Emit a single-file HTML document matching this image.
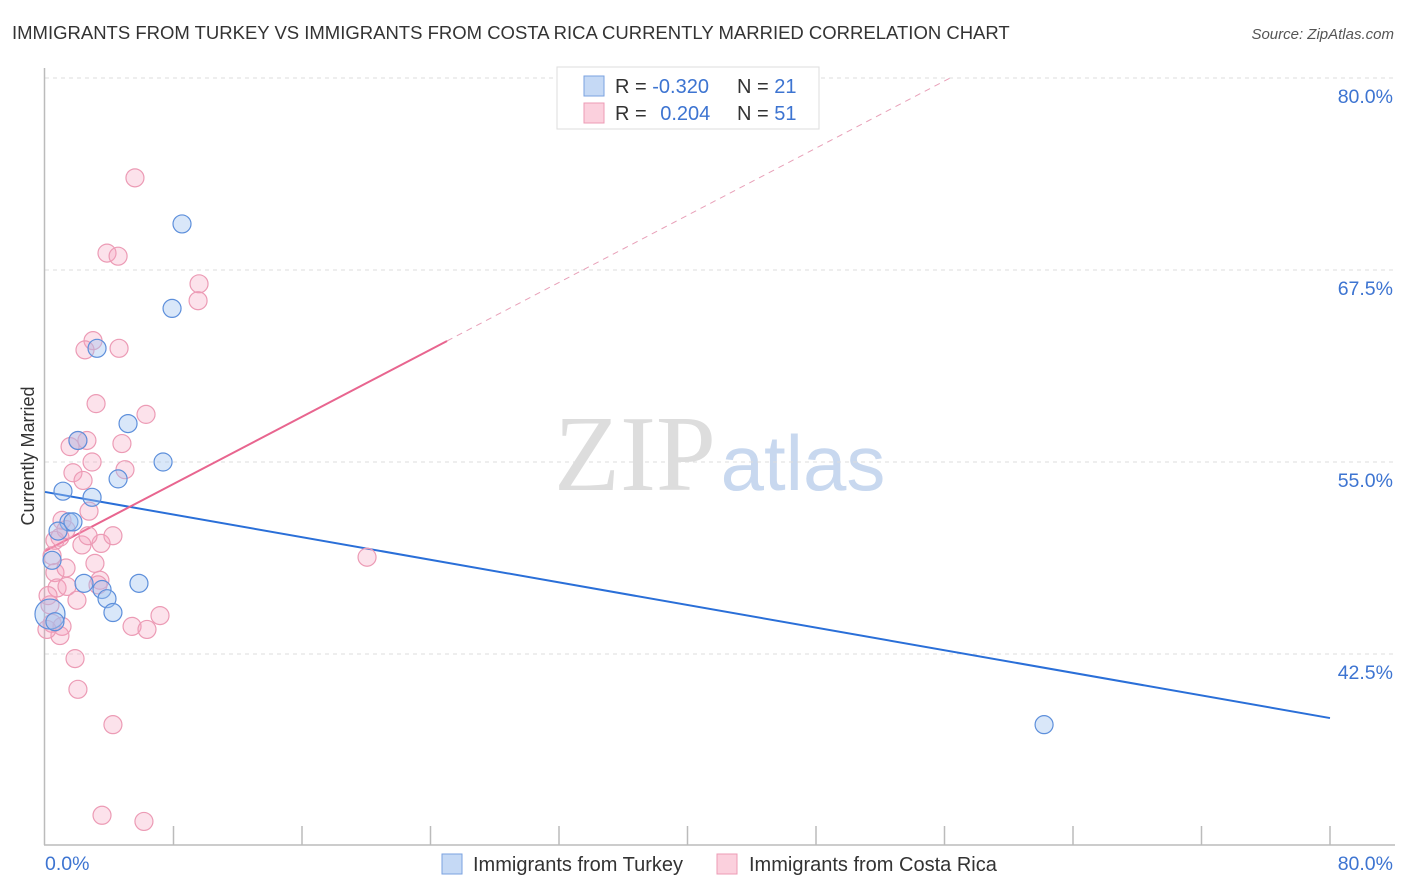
<!DOCTYPE html>
<html><head><meta charset="utf-8"><style>
body{margin:0;background:#fff;font-family:"Liberation Sans",sans-serif;}
svg{display:block}
</style></head><body>
<svg id="chart" width="1406" height="892" xmlns="http://www.w3.org/2000/svg">
<text x="12" y="39" font-size="18.5" fill="#333">IMMIGRANTS FROM TURKEY VS IMMIGRANTS FROM COSTA RICA CURRENTLY MARRIED CORRELATION CHART</text>
<text x="1394" y="39" font-size="15" fill="#555" font-style="italic" text-anchor="end">Source: ZipAtlas.com</text>
<text x="34" y="456" font-size="18" fill="#333" text-anchor="middle" transform="rotate(-90 34 456)">Currently Married</text>
<g>
<text x="635" y="490" font-size="108" fill="#ddd" font-family="Liberation Serif,serif" text-anchor="middle">ZIP</text>
<text x="803" y="490" font-size="78" fill="#c8d8ef" text-anchor="middle">atlas</text>
</g>
<g id="grid"></g>
<g id="axes"></g>
<g id="lines"></g>
<g id="points"></g>
<g>
<rect x="557" y="67" width="262" height="62" fill="#fff" stroke="#ddd"/>
<rect x="584" y="76" width="20" height="20" fill="#c5d9f5" stroke="#7aa2e0"/>
<rect x="584" y="103" width="20" height="20" fill="#fbd0dd" stroke="#ec9bb5"/>
<text x="615" y="93" font-size="20" fill="#333">R = <tspan fill="#3d74d1">-0.320</tspan></text>
<text x="737" y="93" font-size="20" fill="#333">N = <tspan fill="#3d74d1">21</tspan></text>
<text x="615" y="120" font-size="20" fill="#333">R =  <tspan fill="#3d74d1" dx="8">0.204</tspan></text>
<text x="737" y="120" font-size="20" fill="#333">N = <tspan fill="#3d74d1">51</tspan></text>
</g>
<g>
<rect x="442" y="854" width="20" height="20" fill="#c5d9f5" stroke="#7aa2e0"/>
<text x="473" y="871" font-size="20" fill="#333">Immigrants from Turkey</text>
<rect x="717" y="854" width="20" height="20" fill="#fbd0dd" stroke="#ec9bb5"/>
<text x="749" y="871" font-size="20" fill="#333">Immigrants from Costa Rica</text>
</g>
</svg>
<script>
const yTicks=[80,67.5,55,42.5];
const yTickLabels=["80.0%","67.5%","55.0%","42.5%"];
const xTickLabels=["0.0%","80.0%"];
const turkeyX=[8.53,7.91,3.24,5.17,7.35,4.55,1.12,2.93,1.49,0.81,1.74,0.44,2.43,3.55,5.85,3.86,4.23,0.31,0.62,62.2,2.05];
const turkeyY=[70.5,65.0,62.4,57.5,55.0,53.9,53.1,52.7,51.1,50.5,51.1,48.6,47.1,46.7,47.1,46.1,45.2,45.1,44.6,37.9,56.4];
const costaX=[5.60,3.86,4.55,9.59,9.53,2.99,2.49,4.61,3.18,6.29,2.05,2.61,1.56,4.79,2.93,4.98,1.74,2.37,2.74,1.06,0.62,0.93,3.49,2.30,2.68,0.44,0.62,1.31,3.11,0.75,1.37,3.42,1.99,0.31,0.44,1.06,0.93,5.42,6.35,7.16,1.87,2.05,4.23,3.55,6.16,20.05,0.12,0.19,4.23,3.30,1.31];
const costaY=[73.5,68.6,68.4,66.6,65.5,62.9,62.3,62.4,58.8,58.1,56.4,56.4,56.0,56.2,55.0,54.5,54.3,53.8,51.8,51.2,49.9,50.1,49.7,49.6,50.2,48.9,47.8,48.1,48.4,46.8,46.9,47.3,46.0,45.7,44.5,44.3,43.7,44.3,44.1,45.0,42.2,40.2,37.9,32.0,31.6,48.8,44.1,46.3,50.2,47.0,50.6];
const turkeyTrend=[53.05,38.33];
const costaTrend=[49.2,62.88];
const costaSolidEnd=25.03;

const NS="http://www.w3.org/2000/svg";
const X0=45,X1=1330,Y80=78,PX=15.36;
const sx=v=>X0+(v/80)*(X1-X0);
const sy=v=>Y80+(80-v)*PX;
function mk(tag,attrs,parent){const e=document.createElementNS(NS,tag);for(const k in attrs)e.setAttribute(k,attrs[k]);parent.appendChild(e);return e;}
const grid=document.getElementById('grid'),axes=document.getElementById('axes'),lines=document.getElementById('lines'),pts=document.getElementById('points');
yTicks.forEach((t,i)=>{
 const l=mk('line',{x1:45,x2:1395,y1:sy(t),y2:sy(t),stroke:'#ddd','stroke-dasharray':'4,4'},grid);
 
 
 const tx=mk('text',{x:1393,y:sy(t)+25,'font-size':19.5,fill:'#3d74d1','text-anchor':'end'},grid);
 tx.textContent=yTickLabels[i];
 
 
});
const ax=mk('line',{x1:44.5,x2:44.5,y1:68,y2:845,stroke:'#bbb','stroke-width':1.5},axes);


const bx=mk('line',{x1:44,x2:1395,y1:845,y2:845,stroke:'#bbb','stroke-width':1.5},axes);


for(let i=1;i<=10;i++){
 const t=mk('line',{x1:sx(i*8),x2:sx(i*8),y1:826,y2:845,stroke:'#bbb','stroke-width':1.5},axes);
 
 
}
const xl0=mk('text',{x:45,y:870,'font-size':19.5,fill:'#3d74d1'},axes);xl0.textContent=xTickLabels[0];


const xl1=mk('text',{x:1393,y:870,'font-size':19.5,fill:'#3d74d1','text-anchor':'end'},axes);xl1.textContent=xTickLabels[1];



const bt=mk('line',{x1:sx(0),y1:sy(turkeyTrend[0]),x2:sx(80),y2:sy(turkeyTrend[1]),stroke:'#2a6fd8','stroke-width':2},lines);


const slope=(costaTrend[1]-costaTrend[0])/costaSolidEnd;
const cy=x=>costaTrend[0]+slope*x;
const xEnd=(80-costaTrend[0])/slope;
const pd=mk('line',{x1:sx(costaSolidEnd),y1:sy(cy(costaSolidEnd)),x2:sx(xEnd),y2:sy(80),stroke:'#e8a0b8','stroke-width':1,'stroke-dasharray':'6,5'},lines);


const ps=mk('line',{x1:sx(0),y1:sy(costaTrend[0]),x2:sx(costaSolidEnd),y2:sy(cy(costaSolidEnd)),stroke:'#e8658f','stroke-width':2},lines);



costaX.forEach((x,i)=>{
 const c=mk('circle',{cx:sx(x),cy:sy(costaY[i]),r:9,fill:'rgba(244,160,190,0.3)',stroke:'#ec9bb5','stroke-width':1.2},pts);
 
 
});
turkeyX.forEach((x,i)=>{
 const c=mk('circle',{cx:sx(x),cy:sy(turkeyY[i]),r:(i===17?15:9),fill:'rgba(160,195,240,0.4)',stroke:'#5d8fdb','stroke-width':1.2},pts);
 
 
});
</script>
</body></html>
